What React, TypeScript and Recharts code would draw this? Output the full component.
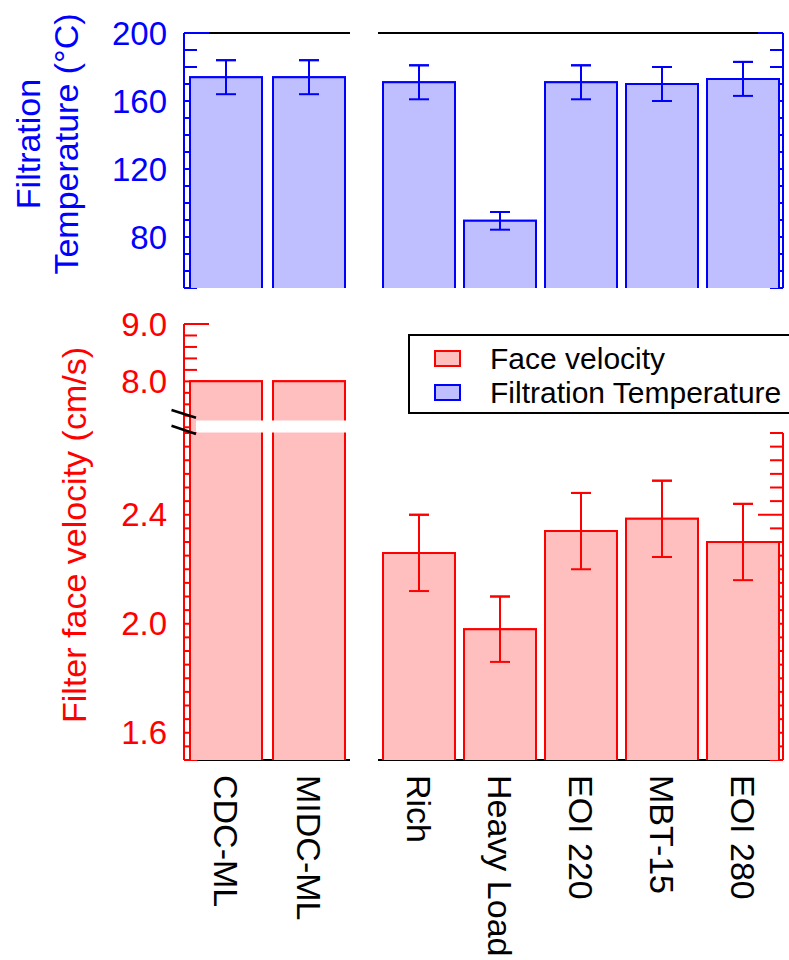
import React from 'react';
import { BarChart, Bar, XAxis, YAxis, ErrorBar, Legend, Label } from 'recharts';

const FONT = '"Liberation Sans", Arial, Helvetica, sans-serif';
const BLUE = '#0000FF';
const RED = '#FF0000';
const BLUE_FILL = '#BFBFFF';
const RED_FILL = '#FFBFBF';

// ---- data ----
const leftCategories = ['CDC-ML', 'MIDC-ML'];
const rightCategories = ['Rich', 'Heavy Load', 'EOI 220', 'MBT-15', 'EOI 280'];

// Filtration temperature (°C)
const leftTemperature = [174, 174];
const leftTemperatureError = [10, 10];
const rightTemperature = [171, 89.5, 171, 170, 173];
const rightTemperatureError = [10, 5.2, 10, 10, 10];

// Filter face velocity (cm/s)
const leftVelocity = [8.0, 8.0];
const rightVelocity = [2.26, 1.98, 2.34, 2.385, 2.3];
const rightVelocityError = [0.14, 0.12, 0.14, 0.14, 0.14];

// ---- axes ----
const temperatureDomain = [50, 200];
const temperatureTicks = [50, 60, 70, 80, 90, 100, 110, 120, 130, 140, 150, 160, 170, 180, 190, 200];
const temperatureLabels = [80, 120, 160, 200];

const velocityUpperDomain = [7.1, 9.0];
const velocityUpperTicks = [7.2, 7.4, 7.6, 7.8, 8.0, 8.2, 8.4, 8.6, 8.8, 9.0];
const velocityUpperLabels = [8.0, 9.0];

const velocityLowerDomain = [1.5, 2.7];
const velocityLowerTicks = [
  1.5, 1.55, 1.6, 1.65, 1.7, 1.75, 1.8, 1.85, 1.9, 1.95, 2.0, 2.05, 2.1, 2.15, 2.2, 2.25,
  2.3, 2.35, 2.4, 2.45, 2.5, 2.55, 2.6, 2.65, 2.7,
];
const velocityLowerLabels = [1.6, 2.0, 2.4];

const temperatureTitle = ['Filtration', 'Temperature (°C)'];
const velocityTitle = ['Filter face velocity (cm/s)'];

const legendItems = [
  { label: 'Face velocity', stroke: RED, fill: RED_FILL },
  { label: 'Filtration Temperature', stroke: BLUE, fill: BLUE_FILL },
];

// ---- tables ----
const leftTempData = leftCategories.map((name, i) => ({ name, value: leftTemperature[i], err: leftTemperatureError[i] }));
const rightTempData = rightCategories.map((name, i) => ({ name, value: rightTemperature[i], err: rightTemperatureError[i] }));
const leftVelData = leftCategories.map((name, i) => ({ name, value: leftVelocity[i] }));
const rightVelData = rightCategories.map((name, i) => ({ name, value: rightVelocity[i], err: rightVelocityError[i] }));

// ---- helpers ----
function OpenBar(props: any) {
  const { x, y, width, height, fill, stroke } = props;
  if (x == null || y == null || !width || height == null) return null;
  const d = `M${x},${y + height} L${x},${y} L${x + width},${y} L${x + width},${y + height}`;
  return (
    <g>
      <rect x={x} y={y} width={width} height={height} fill={fill} stroke="none" />
      <path d={d} fill="none" stroke={stroke} strokeWidth={2} />
    </g>
  );
}

function makeValueTick(opts: { side: 'left' | 'right'; color: string; labels: number[]; gap: number; decimals: number }) {
  return (p: any) => {
    const x = Number(p.x);
    const y = Number(p.y);
    const v = Number(p.payload?.value);
    const major = opts.labels.some((l) => Math.abs(l - v) < 1e-6);
    const len = major ? 25 : 13;
    const axisX = opts.side === 'left' ? x + opts.gap : x - opts.gap;
    const x2 = opts.side === 'left' ? axisX + len : axisX - len;
    return (
      <g>
        <line x1={axisX} y1={y} x2={x2} y2={y} stroke={opts.color} strokeWidth={2} />
        {opts.side === 'left' && major ? (
          <text
            x={x}
            y={y}
            textAnchor="end"
            dominantBaseline="central"
            fill={opts.color}
            fontSize={33}
            fontFamily={FONT}
          >
            {v.toFixed(opts.decimals)}
          </text>
        ) : null}
      </g>
    );
  };
}

function CategoryTick(p: any) {
  const x = Number(p.x);
  const y = Number(p.y);
  return (
    <text
      x={x}
      y={y}
      transform={`rotate(90, ${x}, ${y})`}
      textAnchor="start"
      dominantBaseline="central"
      fill="#000"
      fontSize={34}
      fontFamily={FONT}
    >
      {p.payload?.value}
    </text>
  );
}

function makeTitle(lines: string[], color: string, xs: number[], cyOffset: number) {
  return (p: any) => {
    const vb = p.viewBox || { x: 0, y: 0, width: 0, height: 0 };
    const cy = vb.y + vb.height / 2 + cyOffset;
    return (
      <g>
        {lines.map((t, i) => (
          <text
            key={t}
            x={vb.x + xs[i]}
            y={cy}
            transform={`rotate(-90, ${vb.x + xs[i]}, ${cy})`}
            textAnchor="middle"
            dominantBaseline="central"
            fill={color}
            fontSize={34}
            fontFamily={FONT}
          >
            {t}
          </text>
        ))}
      </g>
    );
  };
}

function LegendBox() {
  return (
    <div
      style={{
        position: 'relative',
        width: 420,
        height: 80,
        border: '2px solid #000',
        boxSizing: 'border-box',
        background: '#fff',
        fontFamily: FONT,
      }}
    >
      {legendItems.map((it, i) => (
        <div key={it.label} style={{ position: 'absolute', left: 0, top: 6 + i * 34, height: 34, width: 420 }}>
          <div
            style={{
              position: 'absolute',
              left: 24,
              top: 8,
              width: 27,
              height: 17,
              background: it.fill,
              border: `2px solid ${it.stroke}`,
              boxSizing: 'border-box',
            }}
          />
          <div
            style={{
              position: 'absolute',
              left: 80,
              top: 0,
              fontSize: 30,
              lineHeight: '34px',
              color: '#000',
              whiteSpace: 'nowrap',
            }}
          >
            {it.label}
          </div>
        </div>
      ))}
    </div>
  );
}

type PanelProps = {
  left: number;
  top: number;
  width: number;
  height: number;
  margin: { top: number; right: number; left: number; bottom: number };
  data: any[];
  side: 'left' | 'right';
  yWidth: number;
  color: string;
  fill: string;
  domain: number[];
  ticks: number[];
  labels: number[];
  decimals: number;
  xMode: 'top' | 'bottom' | 'none';
  withError?: boolean;
  title?: { lines: string[]; xs: number[]; offset: number };
  legend?: boolean;
};

function Panel(p: PanelProps) {
  const gap = p.side === 'left' ? 17 : 0;
  const renderX = (visible: boolean) => {
    if (p.xMode === 'none') return <XAxis dataKey="name" hide />;
    if (p.xMode === 'top')
      return (
        <XAxis
          dataKey="name"
          orientation="top"
          height={30}
          tick={false}
          tickLine={false}
          axisLine={visible ? { stroke: '#000', strokeWidth: 2 } : false}
        />
      );
    return (
      <XAxis
        dataKey="name"
        height={200}
        interval={0}
        tickLine={false}
        tickSize={0}
        tickMargin={15}
        axisLine={visible ? { stroke: '#000', strokeWidth: 2 } : false}
        tick={visible ? CategoryTick : false}
      />
    );
  };
  const renderY = (visible: boolean) => (
    <YAxis
      orientation={p.side}
      type="number"
      domain={p.domain}
      ticks={p.ticks}
      interval={0}
      allowDataOverflow
      width={p.yWidth}
      tickLine={false}
      tickSize={0}
      tickMargin={gap}
      axisLine={visible ? { stroke: p.color, strokeWidth: 2 } : false}
      tick={
        visible
          ? makeValueTick({ side: p.side, color: p.color, labels: p.labels, gap, decimals: p.decimals })
          : false
      }
    >
      {visible && p.title ? <Label content={makeTitle(p.title.lines, p.color, p.title.xs, p.title.offset)} /> : null}
    </YAxis>
  );
  const renderBar = () => (
    <Bar dataKey="value" fill={p.fill} stroke={p.color} barSize={72} isAnimationActive={false} shape={OpenBar}>
      {p.withError ? <ErrorBar dataKey="err" width={10} stroke={p.color} strokeWidth={2} direction="y" /> : null}
    </Bar>
  );
  return (
    <div style={{ position: 'absolute', left: p.left, top: p.top, width: p.width, height: p.height }}>
      {/* axes layer (drawn under the bars) */}
      <div style={{ position: 'absolute', left: 0, top: 0 }}>
        <BarChart width={p.width} height={p.height} data={p.data} margin={p.margin}>
          {renderX(true)}
          {renderY(true)}
          {p.legend ? (
            <Legend
              layout="vertical"
              align="center"
              verticalAlign="middle"
              wrapperStyle={{ left: 38, top: 34, width: 420, height: 80 }}
              content={() => <LegendBox />}
            />
          ) : null}
          {renderBar()}
        </BarChart>
      </div>
      {/* bars layer (covers the inward ticks) */}
      <div style={{ position: 'absolute', left: 0, top: 0, pointerEvents: 'none' }}>
        <BarChart width={p.width} height={p.height} data={p.data} margin={p.margin}>
          {renderX(false)}
          {renderY(false)}
          {renderBar()}
        </BarChart>
      </div>
    </div>
  );
}

export default function App() {
  return (
    <div
      style={{
        position: 'absolute',
        left: 0,
        top: 0,
        width: 789,
        height: 960,
        overflow: 'hidden',
        background: '#fff',
        fontFamily: FONT,
      }}
    >
      {/* Top panel, left group */}
      <Panel
        left={0}
        top={0}
        width={360}
        height={300}
        margin={{ top: 3, right: 10, left: 0, bottom: 12 }}
        data={leftTempData}
        side="left"
        yWidth={184}
        color={BLUE}
        fill={BLUE_FILL}
        domain={temperatureDomain}
        ticks={temperatureTicks}
        labels={temperatureLabels}
        decimals={0}
        xMode="top"
        withError
        title={{ lines: temperatureTitle, xs: [28, 66], offset: -16.5 }}
      />
      {/* Top panel, right group */}
      <Panel
        left={370}
        top={0}
        width={419}
        height={300}
        margin={{ top: 3, right: 0, left: 8, bottom: 12 }}
        data={rightTempData}
        side="right"
        yWidth={6}
        color={BLUE}
        fill={BLUE_FILL}
        domain={temperatureDomain}
        ticks={temperatureTicks}
        labels={temperatureLabels}
        decimals={0}
        xMode="top"
        withError
      />
      {/* Bottom panel, upper part (above the axis break), left group */}
      <Panel
        left={0}
        top={300}
        width={360}
        height={133}
        margin={{ top: 24, right: 10, left: 0, bottom: 0 }}
        data={leftVelData}
        side="left"
        yWidth={184}
        color={RED}
        fill={RED_FILL}
        domain={velocityUpperDomain}
        ticks={velocityUpperTicks}
        labels={velocityUpperLabels}
        decimals={1}
        xMode="none"
      />
      {/* Bottom panel, lower part, left group */}
      <Panel
        left={0}
        top={300}
        width={360}
        height={660}
        margin={{ top: 133, right: 10, left: 0, bottom: 0 }}
        data={leftVelData}
        side="left"
        yWidth={184}
        color={RED}
        fill={RED_FILL}
        domain={velocityLowerDomain}
        ticks={velocityLowerTicks}
        labels={velocityLowerLabels}
        decimals={1}
        xMode="bottom"
        title={{ lines: velocityTitle, xs: [74], offset: -61.5 }}
      />
      {/* Bottom panel, lower part, right group */}
      <Panel
        left={370}
        top={300}
        width={419}
        height={660}
        margin={{ top: 133, right: 0, left: 8, bottom: 0 }}
        data={rightVelData}
        side="right"
        yWidth={6}
        color={RED}
        fill={RED_FILL}
        domain={velocityLowerDomain}
        ticks={velocityLowerTicks}
        labels={velocityLowerLabels}
        decimals={1}
        xMode="bottom"
        withError
        legend
      />

      {/* axis break decoration */}
      <svg width={789} height={960} style={{ position: 'absolute', left: 0, top: 0, pointerEvents: 'none' }}>
        <rect x={196} y={420.5} width={151} height={12} fill="#fff" />
        <line x1={171.5} y1={410} x2={196} y2={417.7} stroke="#000" strokeWidth={2.5} />
        <line x1={171.5} y1={425.7} x2={196} y2={434} stroke="#000" strokeWidth={2.5} />
      </svg>
    </div>
  );
}
